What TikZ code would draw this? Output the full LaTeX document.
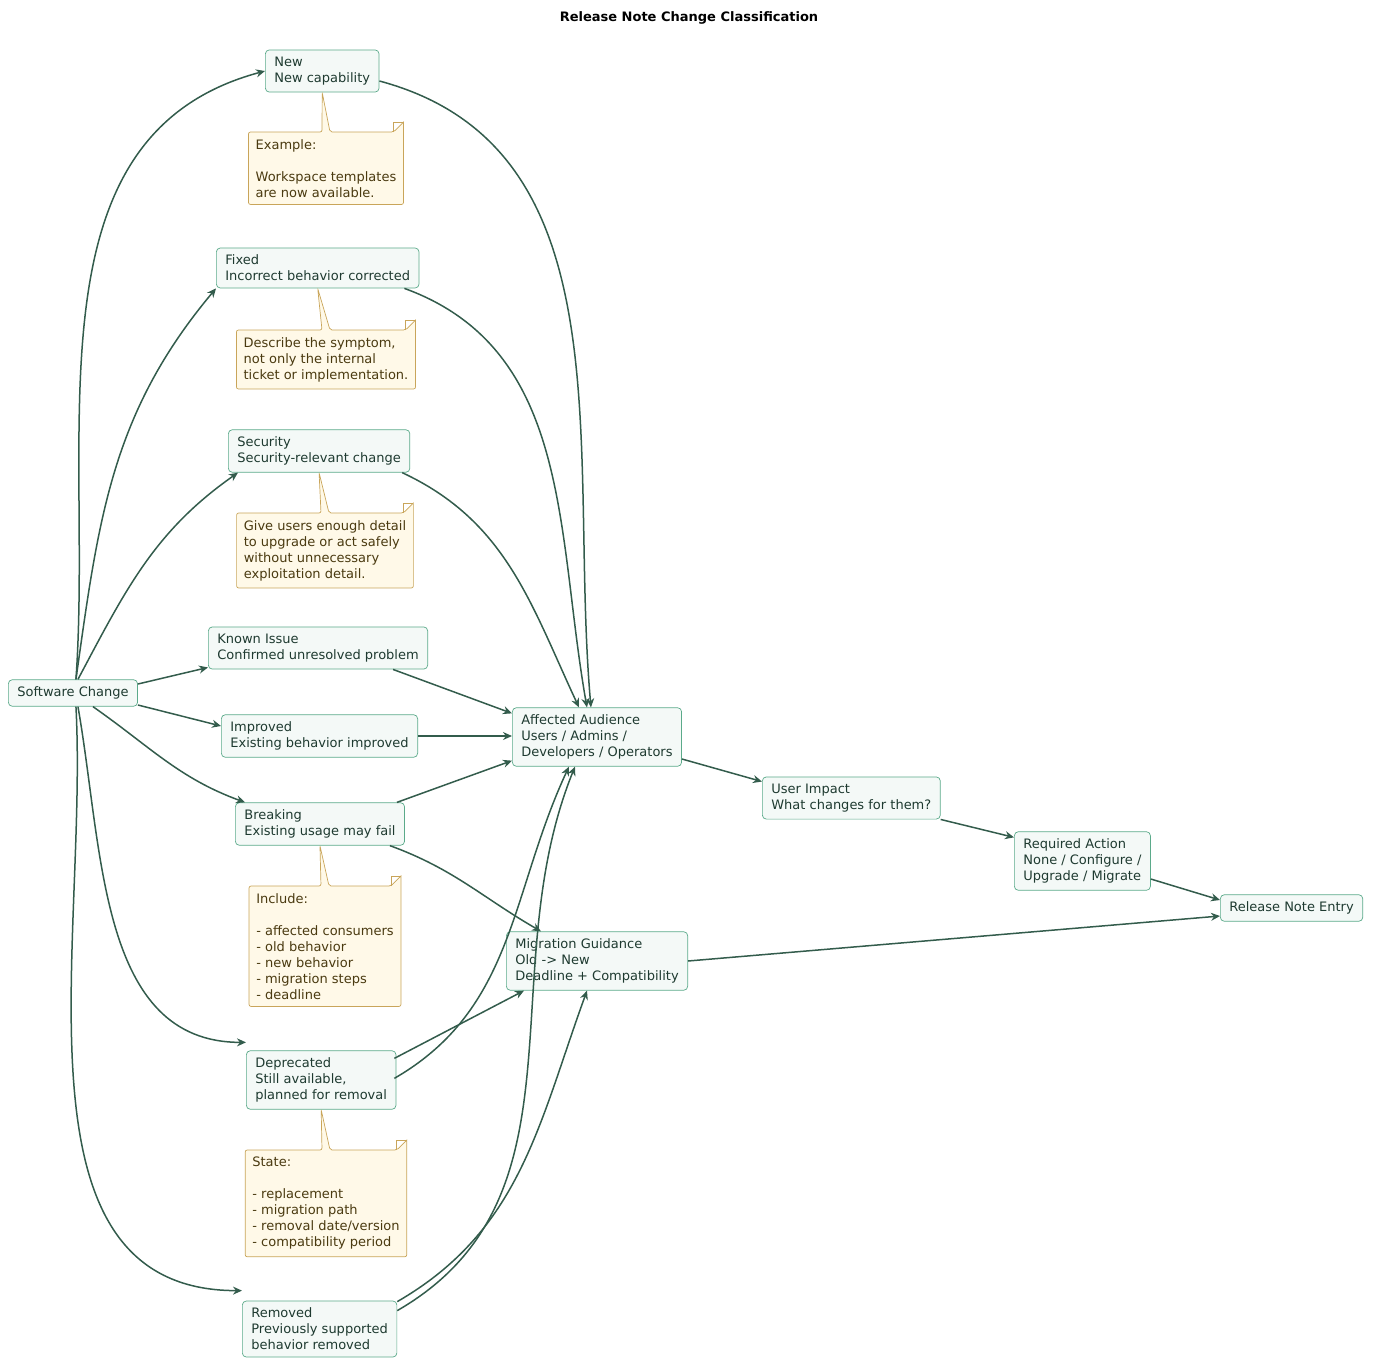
\documentclass[tikz,border=0pt]{standalone}
\usepackage{fontspec}
\setmainfont{DejaVu Sans}
\usetikzlibrary{calc,arrows.meta}
\definecolor{nfill}{HTML}{F4F9F7}
\definecolor{nline}{HTML}{5BAA8A}
\definecolor{ntext}{HTML}{1E3A30}
\definecolor{edge}{HTML}{335C4C}
\definecolor{mfill}{HTML}{FFF9E8}
\definecolor{mline}{HTML}{C9A55A}
\definecolor{mtext}{HTML}{4A3A10}
\tikzset{
 box/.style={draw=nline,fill=nfill,text=ntext,rounded corners=4pt,align=left,inner xsep=9pt,inner ysep=7pt,font=\fontsize{13}{16}\selectfont,anchor=west,line width=0.7pt},
 notetext/.style={text=mtext,align=left,inner xsep=7pt,inner ysep=7pt,font=\fontsize{13}{16}\selectfont,anchor=north},
 ed/.style={draw=edge,line width=1.5pt,-{Stealth[length=9pt,width=8pt]}},
}
\newcommand{\mynote}[4]{%
 \node[notetext] (#1) at #3 {#4};
 \filldraw[fill=mfill,draw=mline,line width=0.7pt,rounded corners=2pt]
  (#1.south west) -- (#1.north west) -- ($(#1.north)+(-4,0)$) -- (#2.south) -- ($(#1.north)+(4,0)$) -- ($(#1.north east)+(-10,0)$) [sharp corners]-- ($(#1.north east)+(0,-10)$) [rounded corners=2pt]-- (#1.south east) -- cycle;
 \draw[mline,line width=0.7pt] ($(#1.north east)+(-10,0)$) -- ($(#1.north east)+(-10,-10)$) -- ($(#1.north east)+(0,-10)$);
 \node[notetext] at #3 {#4};
}
\begin{document}
\begin{tikzpicture}[x=1pt,y=-1pt]
\useasboundingbox (0,0) rectangle (1379,1368);
\node[font=\bfseries\fontsize{13}{16}\selectfont] (title) at (689,18) {Release Note Change Classification};
\node[box] (sc) at (8,693) {Software Change};
\node[box] (new) at (265,71) {New\\New capability};
\node[box] (fix) at (216,268) {Fixed\\Incorrect behavior corrected};
\node[box] (sec) at (228,451) {Security\\Security-relevant change};
\node[box] (kn) at (208,648) {Known Issue\\Confirmed unresolved problem};
\node[box] (imp) at (221,736) {Improved\\Existing behavior improved};
\node[box] (br) at (235,824) {Breaking\\Existing usage may fail};
\node[box] (dep) at (246,1080) {Deprecated\\Still available,\\planned for removal};
\node[box] (rem) at (242,1329) {Removed\\Previously supported\\behavior removed};
\node[box] (aff) at (512,737) {Affected Audience\\Users / Admins /\\Developers / Operators};
\node[box] (ui) at (762,798) {User Impact\\What changes for them?};
\node[box] (ra) at (1014,861) {Required Action\\None / Configure /\\Upgrade / Migrate};
\node[box] (rne) at (1220,908) {Release Note Entry};
\node[box] (mig) at (506,961) {Migration Guidance\\Old -> New\\Deadline + Compatibility};
\mynote{n1}{new}{(326,132)}{Example:\\[16pt]Workspace templates\\are now available.}
\mynote{n2}{fix}{(326,330)}{Describe the symptom,\\not only the internal\\ticket or implementation.}
\mynote{n3}{sec}{(325,513)}{Give users enough detail\\to upgrade or act safely\\without unnecessary\\exploitation detail.}
\mynote{n4}{br}{(325,886)}{Include:\\[16pt]- affected consumers\\- old behavior\\- new behavior\\- migration steps\\- deadline}
\mynote{n5}{dep}{(326,1150)}{State:\\[16pt]- replacement\\- migration path\\- removal date/version\\- compatibility period}
% edges
\draw[ed] ($(sc.north)+(3,0)$) to[out=86,in=195] (new.west);
\draw[ed] ($(sc.north)+(3,0)$) to[out=82,in=-130] (fix.south west);
\draw[ed] ($(sc.north)+(5,0)$) to[out=62,in=-145] ($(sec.south west)+(10,0)$);
\draw[ed] ($(sc.east)+(0,-9)$) -- ($(kn.south west)+(0,-2)$);
\draw[ed] ($(sc.east)+(0,12)$) -- ($(imp.west)+(0,-10)$);
\draw[ed] ($(sc.south)+(20,0)$) to[out=-35,in=160] ($(br.north west)+(10,0)$);
\draw[ed] ($(sc.south)+(5,0)$) to[out=-80,in=180] ($(dep.north west)+(0,-8)$);
\draw[ed] ($(sc.south)+(3,0)$) to[out=-87,in=180] ($(rem.north west)+(0,-10)$);
\draw[ed] ($(new.east)+(0,10)$) to[out=-15,in=95] ($(aff.north)+(-6,0)$);
\draw[ed] ($(fix.south east)+(-15,0)$) to[out=-20,in=100] ($(aff.north)+(-10,0)$);
\draw[ed] ($(sec.south east)+(-8,0)$) to[out=-25,in=115] ($(aff.north)+(-18,0)$);
\draw[ed] ($(kn.south east)+(-35,0)$) -- ($(aff.north west)+(0,6)$);
\draw[ed] (imp.east) -- (imp.east-|aff.west);
\draw[ed] ($(br.north east)+(-8,0)$) -- ($(aff.south west)+(0,-6)$);
\draw[ed] ($(br.south east)+(-15,0)$) to[out=-20,in=150] ($(mig.north west)+(35,0)$);
\draw[ed] ($(dep.north east)+(-2,8)$) -- ($(mig.south west)+(18,0)$);
\draw[ed] ($(dep.north east)+(-2,28)$) to[out=30,in=-115] ($(aff.south)+(-28,0)$);
\draw[ed] ($(rem.north east)+(0,10)$) to[out=30,in=-112] ($(aff.south)+(-22,0)$) ;
\draw[ed] ($(rem.north east)+(0,1)$) to[out=30,in=-110] ($(mig.south)+(-10,0)$);
\draw[ed] ($(aff.east)+(0,22)$) -- ($(ui.north west)+(0,5)$);
\draw[ed] ($(ui.south east)+(0,0)$) -- ($(ra.north west)+(0,6)$);
\draw[ed] ($(ra.east)+(0,18)$) -- ($(rne.west)+(0,-8)$);
\draw[ed] (mig.east) -- ($(rne.west)+(0,8)$);
\end{tikzpicture}
\end{document}
